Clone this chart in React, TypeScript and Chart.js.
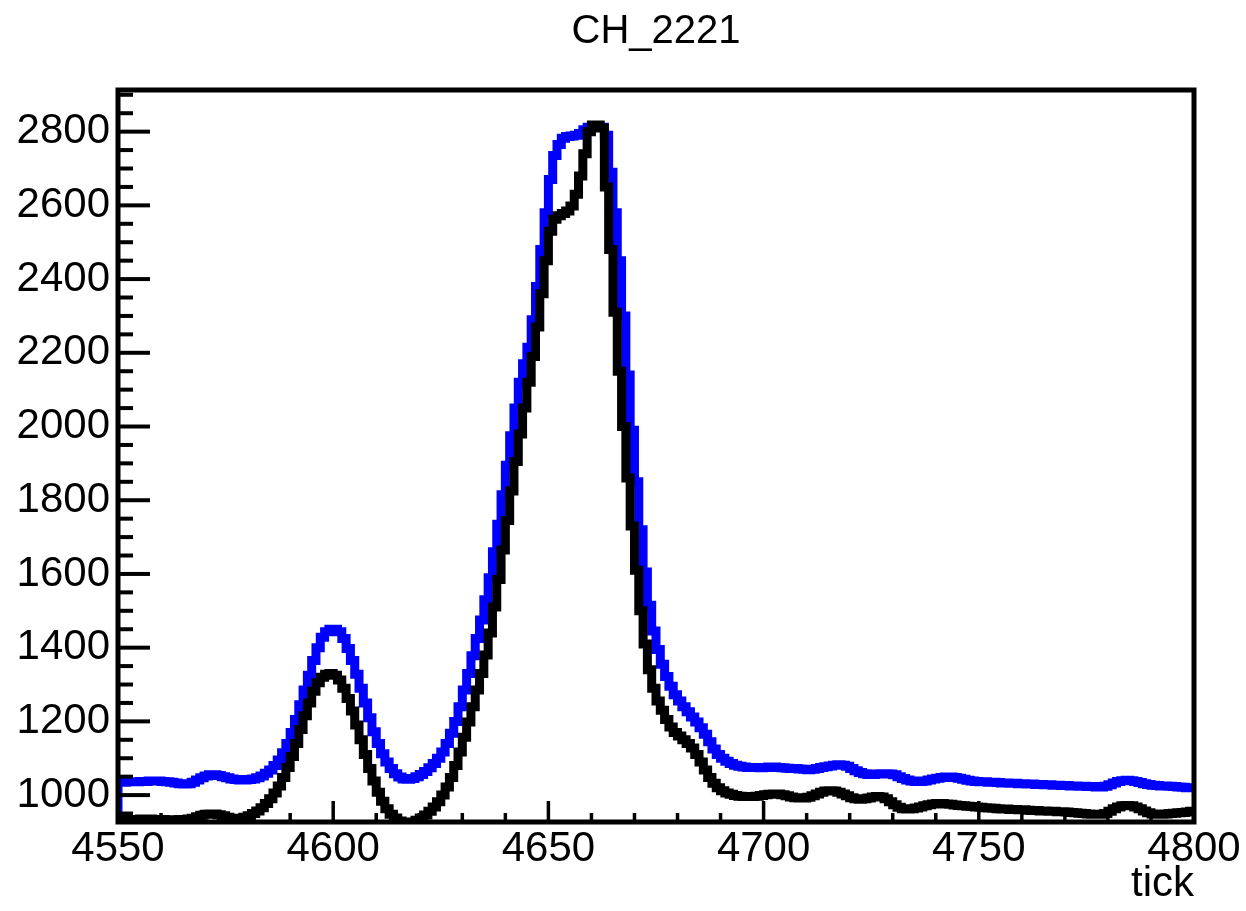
import React, { useEffect, useRef } from 'react';
import { Chart, registerables } from 'chart.js';

Chart.register(...registerables);

// Histogram: one bin per tick, from 4550 to 4800
const BIN_START = 4550;
const BIN_END = 4800;

// blue histogram, bins 4550..4799
const blueCounts = [
  1035, 1035, 1036, 1036, 1036, 1037, 1037, 1038, 1038, 1038,
  1037, 1036, 1035, 1033, 1031, 1030, 1031, 1035, 1041, 1047,
  1052, 1055, 1055, 1053, 1050, 1047, 1044, 1042, 1041, 1041,
  1042, 1044, 1047, 1052, 1059, 1068, 1080, 1095, 1115, 1140,
  1170, 1205, 1245, 1285, 1325, 1365, 1400, 1428, 1443, 1450,
  1450, 1443, 1425, 1398, 1365, 1328, 1290, 1250, 1210, 1172,
  1140, 1112, 1090, 1072, 1058, 1049, 1044, 1043, 1045, 1050,
  1056, 1064, 1074, 1086, 1100, 1117, 1140, 1168, 1200, 1240,
  1285, 1330, 1378, 1425, 1475, 1530, 1590, 1660, 1735, 1815,
  1895, 1975, 2050, 2120, 2170, 2215, 2290, 2380, 2480, 2580,
  2670, 2735, 2765, 2782, 2787, 2788, 2790, 2795, 2805, 2812,
  2816, 2816, 2812, 2790, 2690, 2580, 2450, 2300, 2140, 1990,
  1850, 1720, 1605, 1515, 1445, 1395, 1355, 1322, 1295, 1272,
  1255, 1240, 1226, 1212, 1198, 1183, 1165, 1145, 1125, 1110,
  1100, 1092, 1086, 1081, 1078, 1076, 1075, 1075, 1075, 1074,
  1075, 1076, 1076, 1075, 1074, 1073, 1072, 1072, 1071, 1070,
  1069, 1070, 1072, 1075, 1077, 1079, 1081, 1082, 1081, 1078,
  1072, 1066, 1061, 1058, 1056, 1056, 1057, 1058, 1058, 1057,
  1055, 1050, 1045, 1041, 1038, 1037, 1037, 1038, 1041, 1044,
  1046, 1048, 1049, 1049, 1048, 1046, 1043, 1040, 1038, 1037,
  1036, 1036, 1035, 1035, 1034, 1033, 1033, 1032, 1032, 1031,
  1031, 1030, 1030, 1029, 1029, 1028, 1028, 1027, 1027, 1026,
  1026, 1025, 1025, 1024, 1024, 1023, 1023, 1022, 1022, 1024,
  1028, 1033, 1037, 1039, 1040, 1039, 1037, 1034, 1031, 1029,
  1027, 1026, 1025, 1025, 1024, 1023, 1022, 1021, 1020, 1020,
];

// black histogram, bins 4550..4799
const blackCounts = [
  933, 933, 934, 934, 934, 935, 935, 935, 934, 934,
  934, 933, 933, 933, 934, 934, 935, 937, 941, 945,
  948, 949, 949, 947, 944, 940, 937, 936, 937, 940,
  944, 950, 957, 966, 977, 990, 1006, 1025, 1048, 1075,
  1105, 1140, 1178, 1215, 1250, 1282, 1305, 1320, 1328, 1330,
  1325, 1312, 1290, 1262, 1228, 1190, 1150, 1110, 1072, 1038,
  1008, 983, 963, 948, 938, 930, 926, 925, 927, 932,
  938, 946, 956, 968, 982, 1000, 1022, 1048, 1080, 1117,
  1157, 1198, 1240, 1285, 1330, 1380, 1440, 1510, 1585, 1665,
  1745, 1825, 1905, 1980, 2050, 2120, 2190, 2270, 2360, 2450,
  2530, 2562, 2572, 2578, 2585, 2598, 2630, 2680, 2740, 2800,
  2818, 2818, 2810, 2650, 2480, 2310, 2150, 2000, 1860, 1730,
  1610, 1500, 1410, 1340, 1290, 1255, 1230, 1205, 1185, 1170,
  1160, 1150, 1140, 1128, 1110, 1090, 1068, 1048, 1032, 1020,
  1012, 1006, 1002, 999, 997, 996, 996, 996, 997, 999,
  1001, 1002, 1003, 1003, 1001, 998, 995, 993, 992, 992,
  994, 998, 1003, 1008, 1011, 1012, 1011, 1008, 1003, 998,
  993, 990, 989, 990, 992, 995, 996, 995, 990, 982,
  974, 967, 963, 962, 963, 965, 968, 971, 974, 976,
  977, 977, 976, 975, 973, 972, 971, 970, 969, 968,
  967, 966, 965, 964, 963, 962, 962, 961, 961, 960,
  960, 959, 958, 958, 957, 957, 956, 956, 955, 955,
  954, 953, 952, 951, 950, 949, 948, 948, 948, 950,
  956, 963, 968, 971, 972, 971, 968, 963, 957, 952,
  949, 948, 948, 949, 950, 951, 952, 953, 954, 956,
];

const xTickLabels = [4550, 4600, 4650, 4700, 4750, 4800];
const yTickLabels = [1000, 1200, 1400, 1600, 1800, 2000, 2200, 2400, 2600, 2800];
const Y_MIN = 927;
const Y_MAX = 2913;
const X_MINOR_STEP = 10;
const Y_MINOR_STEP = 50;

const FONT_FAMILY = '"Liberation Sans", Arial, Helvetica, sans-serif';

function toSteps(counts: number[]) {
  const pts: { x: number; y: number }[] = [{ x: BIN_START, y: Y_MIN - 200 }];
  counts.forEach((c, i) => pts.push({ x: BIN_START + i, y: c }));
  pts.push({ x: BIN_START + counts.length, y: counts[counts.length - 1] });
  return pts;
}

const rootFrame = {
  id: 'rootFrame',
  afterDatasetsDraw(chart: any) {
    const { ctx, chartArea, scales } = chart;
    const { left, right, top, bottom } = chartArea;
    const x = scales.x;
    const y = scales.y;
    ctx.save();
    ctx.strokeStyle = '#000';
    ctx.lineCap = 'butt';
    ctx.lineWidth = 4;
    const line = (x1: number, y1: number, x2: number, y2: number) => {
      ctx.beginPath();
      ctx.moveTo(x1, y1);
      ctx.lineTo(x2, y2);
      ctx.stroke();
    };
    // y ticks (inward)
    for (let v = Math.ceil(Y_MIN / Y_MINOR_STEP) * Y_MINOR_STEP; v <= Y_MAX; v += Y_MINOR_STEP) {
      const py = y.getPixelForValue(v);
      const major = yTickLabels.includes(v);
      line(left, py, left + (major ? 32 : 15), py);
    }
    // x ticks (inward)
    ctx.lineWidth = 3.5;
    for (let v = BIN_START; v <= BIN_END; v += X_MINOR_STEP) {
      const px = x.getPixelForValue(v);
      const major = xTickLabels.includes(v);
      line(px, bottom, px, bottom - (major ? 21 : 9));
    }
    // frame
    ctx.lineWidth = 5;
    ctx.strokeRect(left, top, right - left, bottom - top);
    ctx.restore();
  },
};

export default function App() {
  const canvasRef = useRef<HTMLCanvasElement | null>(null);

  useEffect(() => {
    document.body.style.margin = '0';
    const canvas = canvasRef.current;
    if (!canvas) return;
    const titleFont = { family: FONT_FAMILY, size: 40, weight: 'normal' as const };
    const font = { family: FONT_FAMILY, size: 42, weight: 'normal' as const };
    const chart = new Chart(canvas, {
      type: 'line',
      data: {
        datasets: [
          {
            label: 'black',
            data: toSteps(blackCounts),
            borderColor: '#000000',
            backgroundColor: '#000000',
            borderWidth: 9,
            stepped: true,
            pointRadius: 0,
            fill: false,
            clip: 0,
            borderJoinStyle: 'miter',
            borderCapStyle: 'butt',
          },
          {
            label: 'blue',
            data: toSteps(blueCounts),
            borderColor: '#0000ff',
            backgroundColor: '#0000ff',
            borderWidth: 9,
            stepped: true,
            pointRadius: 0,
            fill: false,
            clip: 0,
            borderJoinStyle: 'miter',
            borderCapStyle: 'butt',
          },
        ],
      },
      options: {
        animation: false,
        responsive: false,
        devicePixelRatio: 1,
        layout: { padding: { left: 0, right: 52, top: 0, bottom: 0 } },
        plugins: {
          legend: { display: false },
          tooltip: { enabled: false },
          title: {
            display: true,
            text: 'CH_2221',
            fullSize: false,
            color: '#000',
            font: titleFont,
            padding: { top: 8, bottom: 34 },
          },
        },
        scales: {
          x: {
            type: 'linear',
            min: BIN_START,
            max: BIN_END,
            afterFit: (s: any) => {
              s.height = 89;
            },
            afterBuildTicks: (s: any) => {
              s.ticks = xTickLabels.map((v) => ({ value: v }));
            },
            grid: { display: false, drawTicks: false },
            border: { display: false },
            ticks: {
              color: '#000',
              font,
              padding: 2,
              maxRotation: 0,
              autoSkip: false,
              callback: (v: any) => String(v),
            },
            title: {
              display: true,
              text: 'tick',
              align: 'end',
              color: '#000',
              font,
              padding: { top: 0, bottom: 1 },
            },
          },
          y: {
            type: 'linear',
            min: Y_MIN,
            max: Y_MAX,
            afterFit: (s: any) => {
              s.width = 118;
            },
            afterBuildTicks: (s: any) => {
              s.ticks = yTickLabels.map((v) => ({ value: v }));
            },
            grid: { display: false, drawTicks: false },
            border: { display: false },
            ticks: {
              color: '#000',
              font,
              padding: 8,
              autoSkip: false,
              callback: (v: any) => String(v),
            },
          },
        },
      },
      plugins: [rootFrame],
    } as any);
    return () => chart.destroy();
  }, []);

  return (
    <div style={{ position: 'fixed', left: 0, top: 0, width: 1246, height: 911, background: '#fff' }}>
      <canvas ref={canvasRef} width={1246} height={911} />
    </div>
  );
}
